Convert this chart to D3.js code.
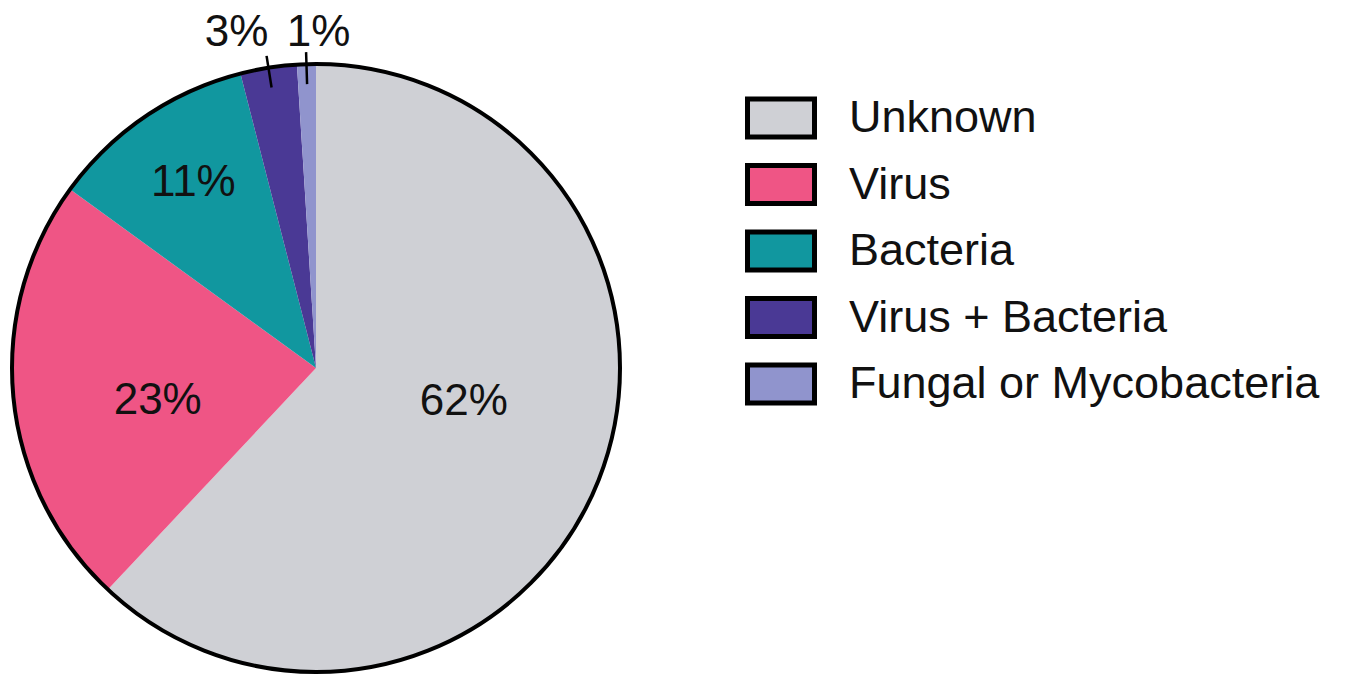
<!DOCTYPE html>
<html>
<head>
<meta charset="utf-8">
<script src="https://cdn.jsdelivr.net/npm/d3@7"></script>
<style>
  html, body { margin: 0; padding: 0; background: #fff; }
  svg { display: block; }
  text { font-family: "Liberation Sans", Arial, Helvetica, sans-serif; fill: #111; }
</style>
</head>
<body>
<svg id="chart" width="1353" height="679"></svg>
<script>
// ---- data ----
const categories = ["Unknown", "Virus", "Bacteria", "Virus + Bacteria", "Fungal or Mycobacteria"];
const values = [62, 23, 11, 3, 1];
const labels = ["62%", "23%", "11%", "3%", "1%"];
const colors = ["#cfd0d5", "#ef5585", "#11979f", "#4a3995", "#9094cd"];

// ---- layout ----
const W = 1353, H = 679;
const cx = 316, cy = 368, R = 304;
const fontSize = 44;
const legendFontSize = 45;
// which labels sit outside the pie (with a leader tick), and per-label placement
const labelPlacement = {
  "Unknown":                { r: 160, dx: -1, dy: -27, outside: false },
  "Virus":                  { r: 160, dx: 1,  dy: 16,  outside: false },
  "Bacteria":               { r: 220, dx: 1,  dy: -5,  outside: false },
  "Virus + Bacteria":       { r: 335, dx: -27, dy: -7, outside: true },
  "Fungal or Mycobacteria": { r: 335, dx: 13, dy: -3,  outside: true }
};

const data = categories.map((c, i) => ({ cat: c, value: values[i], label: labels[i], color: colors[i] }));

const svg = d3.select("#chart");
svg.append("rect").attr("width", W).attr("height", H).attr("fill", "#fff");

const color = d3.scaleOrdinal().domain(categories).range(colors);

const pie = d3.pie().value(d => d.value).sort(null);
const arcs = pie(data);
const arc = d3.arc().innerRadius(0).outerRadius(R);

const g = svg.append("g").attr("transform", `translate(${cx},${cy})`);

g.selectAll("path.slice")
  .data(arcs)
  .join("path")
  .attr("class", "slice")
  .attr("d", arc)
  .attr("fill", d => color(d.data.cat));

// outer outline
g.append("circle").attr("r", R).attr("fill", "none").attr("stroke", "#000").attr("stroke-width", 4);

const mid = d => (d.startAngle + d.endAngle) / 2;
const polar = (a, r) => [Math.sin(a) * r, -Math.cos(a) * r];

// leader ticks for outside labels
g.selectAll("line.tick")
  .data(arcs.filter(d => labelPlacement[d.data.cat].outside))
  .join("line")
  .attr("class", "tick")
  .attr("x1", d => polar(mid(d), R - 20)[0])
  .attr("y1", d => polar(mid(d), R - 20)[1])
  .attr("x2", d => polar(mid(d), R + 12)[0])
  .attr("y2", d => polar(mid(d), R + 12)[1])
  .attr("stroke", "#000")
  .attr("stroke-width", 2.5);

// slice labels
g.selectAll("text.lbl")
  .data(arcs)
  .join("text")
  .attr("class", "lbl")
  .attr("x", d => { const p = labelPlacement[d.data.cat]; return polar(mid(d), p.r)[0] + p.dx; })
  .attr("y", d => { const p = labelPlacement[d.data.cat]; return polar(mid(d), p.r)[1] + p.dy; })
  .attr("dy", "0.35em")
  .attr("text-anchor", "middle")
  .attr("font-size", fontSize)
  .text(d => d.data.label);

// ---- legend ----
const ly = d3.scalePoint().domain(categories).range([118, 384]);
const boxX = 747.5, boxW = 67, boxH = 38;
const leg = svg.append("g");
const items = leg.selectAll("g.item").data(data).join("g").attr("class", "item");
items.append("rect")
  .attr("x", boxX)
  .attr("y", d => ly(d.cat) - boxH / 2)
  .attr("width", boxW)
  .attr("height", boxH)
  .attr("fill", d => color(d.cat))
  .attr("stroke", "#000")
  .attr("stroke-width", 5);
items.append("text")
  .attr("x", 849)
  .attr("y", d => ly(d.cat) + 14)
  .attr("font-size", legendFontSize)
  .text(d => d.cat);
</script>
</body>
</html>
